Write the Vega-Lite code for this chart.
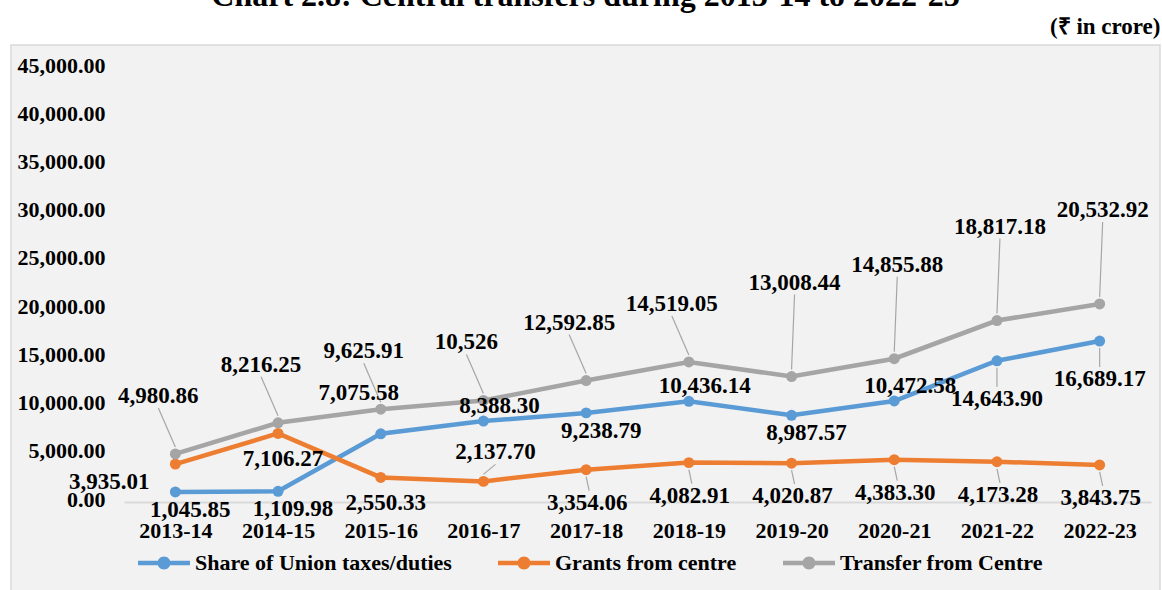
{
  "$schema": "https://vega.github.io/schema/vega-lite/v6.json",
  "width": 1149,
  "height": 546,
  "autosize": {"type": "none"},
  "padding": {"left": 11, "top": 45, "right": 2, "bottom": 0},
  "background": "white",
  "title": {
    "text": "Chart 2.8: Central transfers during 2013-14 to 2022-23",
    "font": "Liberation Serif",
    "fontSize": 32,
    "fontWeight": "bold",
    "color": "black",
    "anchor": "middle",
    "frame": "group",
    "baseline": "alphabetic",
    "offset": 6,
    "dy": 29
  },
  "config": {
    "view": {"fill": "#f2f2f2", "stroke": "#d9d9d9", "strokeWidth": 1.5},
    "font": "Liberation Serif"
  },
  "data": {
    "values": [
      {"year": "2013-14", "series": "Share of Union taxes/duties", "value": 1045.85},
      {"year": "2014-15", "series": "Share of Union taxes/duties", "value": 1109.98},
      {"year": "2015-16", "series": "Share of Union taxes/duties", "value": 7075.58},
      {"year": "2016-17", "series": "Share of Union taxes/duties", "value": 8388.30},
      {"year": "2017-18", "series": "Share of Union taxes/duties", "value": 9238.79},
      {"year": "2018-19", "series": "Share of Union taxes/duties", "value": 10436.14},
      {"year": "2019-20", "series": "Share of Union taxes/duties", "value": 8987.57},
      {"year": "2020-21", "series": "Share of Union taxes/duties", "value": 10472.58},
      {"year": "2021-22", "series": "Share of Union taxes/duties", "value": 14643.90},
      {"year": "2022-23", "series": "Share of Union taxes/duties", "value": 16689.17},
      {"year": "2013-14", "series": "Grants from centre", "value": 3935.01},
      {"year": "2014-15", "series": "Grants from centre", "value": 7106.27},
      {"year": "2015-16", "series": "Grants from centre", "value": 2550.33},
      {"year": "2016-17", "series": "Grants from centre", "value": 2137.70},
      {"year": "2017-18", "series": "Grants from centre", "value": 3354.06},
      {"year": "2018-19", "series": "Grants from centre", "value": 4082.91},
      {"year": "2019-20", "series": "Grants from centre", "value": 4020.87},
      {"year": "2020-21", "series": "Grants from centre", "value": 4383.30},
      {"year": "2021-22", "series": "Grants from centre", "value": 4173.28},
      {"year": "2022-23", "series": "Grants from centre", "value": 3843.75},
      {"year": "2013-14", "series": "Transfer from Centre", "value": 4980.86},
      {"year": "2014-15", "series": "Transfer from Centre", "value": 8216.25},
      {"year": "2015-16", "series": "Transfer from Centre", "value": 9625.91},
      {"year": "2016-17", "series": "Transfer from Centre", "value": 10526},
      {"year": "2017-18", "series": "Transfer from Centre", "value": 12592.85},
      {"year": "2018-19", "series": "Transfer from Centre", "value": 14519.05},
      {"year": "2019-20", "series": "Transfer from Centre", "value": 13008.44},
      {"year": "2020-21", "series": "Transfer from Centre", "value": 14855.88},
      {"year": "2021-22", "series": "Transfer from Centre", "value": 18817.18},
      {"year": "2022-23", "series": "Transfer from Centre", "value": 20532.92}
    ]
  },
  "transform": [
    {"calculate": "format(datum.value, datum.value == floor(datum.value) ? ',' : ',.2f')", "as": "label"}
  ],
  "encoding": {
    "x": {
      "field": "year",
      "type": "ordinal",
      "scale": {"type": "point", "range": [113, 1140], "padding": 0.5},
      "axis": {
        "title": null,
        "offset": -89,
        "domainColor": "#d9d9d9",
        "domainWidth": 2,
        "ticks": false,
        "tickSize": 0,
        "grid": false,
        "labelAngle": 0,
        "labelPadding": 18,
        "labelFont": "Liberation Serif",
        "labelFontSize": 22,
        "labelFontWeight": "bold",
        "labelColor": "black"
      }
    },
    "y": {
      "field": "value",
      "type": "quantitative",
      "scale": {"domain": [0, 45000], "range": [457, 23], "nice": false},
      "axis": {
        "values": [0, 5000, 10000, 15000, 20000, 25000, 30000, 35000, 40000, 45000],
        "format": ",.2f",
        "domain": false,
        "ticks": false,
        "tickSize": 0,
        "grid": false,
        "labelAlign": "right",
        "labelBaseline": "middle",
        "labelPadding": -94,
        "labelOffset": -3,
        "labelFont": "Liberation Serif",
        "labelFontSize": 22,
        "labelFontWeight": "bold",
        "labelColor": "black",
        "title": "(₹ in crore)",
        "titleX": 1149,
        "titleY": -12,
        "titleAngle": 0,
        "titleAlign": "right",
        "titleBaseline": "alphabetic",
        "titleFont": "Liberation Serif",
        "titleFontSize": 23,
        "titleFontWeight": "bold",
        "titleColor": "black"
      }
    }
  },
  "layer": [
    {
      "mark": {"type": "line", "strokeWidth": 4.5},
      "encoding": {
        "color": {
          "field": "series",
          "type": "nominal",
          "scale": {
            "domain": ["Share of Union taxes/duties", "Grants from centre", "Transfer from Centre"],
            "range": ["#5b9bd5", "#ed7d31", "#a5a5a5"]
          },
          "legend": {
            "orient": "none",
            "legendX": 127,
            "legendY": 492,
            "direction": "horizontal",
            "title": null,
            "padding": 0,
            "symbolType": "M-1,-0.09L1,-0.09L1,0.09L-1,0.09Z M0.25,0A0.25,0.25 0 1,1 -0.25,0A0.25,0.25 0 1,1 0.25,0Z",
            "symbolSize": 2704,
            "symbolStrokeWidth": 0,
            "labelFont": "Liberation Serif",
            "labelFontSize": 22,
            "labelFontWeight": "bold",
            "labelColor": "black",
            "labelLimit": 0,
            "labelOffset": 5,
            "columnPadding": 46,
            "encode": {
              "symbols": {
                "update": {
                  "fill": {"scale": "color", "field": "value"},
                  "stroke": {"value": "transparent"},
                  "opacity": {"value": 1}
                }
              }
            }
          }
        }
      }
    },
    {
      "mark": {"type": "circle", "size": 120, "opacity": 1},
      "encoding": {
        "color": {"field": "series", "type": "nominal"}
      }
    },
    {
      "transform": [{"filter": "datum.series == 'Transfer from Centre' && indexof(['2013-14','2014-15','2015-16','2016-17','2017-18','2018-19'], datum.year) >= 0"}],
      "mark": {"type": "rule", "color": "#a6a6a6", "strokeWidth": 1.2, "yOffset": -7, "x2Offset": -17, "y2Offset": -46},
      "encoding": {"x2": {"field": "year"}, "y2": {"field": "value"}}
    },
    {
      "transform": [{"filter": "datum.series == 'Transfer from Centre' && indexof(['2019-20','2020-21','2021-22','2022-23'], datum.year) >= 0"}],
      "mark": {"type": "rule", "color": "#a6a6a6", "strokeWidth": 1.2, "yOffset": -7, "x2Offset": 3, "y2Offset": -82},
      "encoding": {"x2": {"field": "year"}, "y2": {"field": "value"}}
    },
    {
      "transform": [{"filter": "datum.series == 'Share of Union taxes/duties' && indexof(['2021-22','2022-23'], datum.year) >= 0"}],
      "mark": {"type": "rule", "color": "#a6a6a6", "strokeWidth": 1.2, "yOffset": 7, "x2Offset": 0, "y2Offset": 26},
      "encoding": {"x2": {"field": "year"}, "y2": {"field": "value"}}
    },
    {
      "transform": [{"filter": "datum.series == 'Grants from centre' && datum.year == '2016-17'"}],
      "mark": {"type": "rule", "color": "#a6a6a6", "strokeWidth": 1.2, "yOffset": -7, "x2Offset": 12, "y2Offset": -17},
      "encoding": {"x2": {"field": "year"}, "y2": {"field": "value"}}
    },
    {
      "transform": [{"filter": "datum.series == 'Grants from centre' && indexof(['2017-18','2018-19','2019-20','2020-21','2021-22','2022-23'], datum.year) >= 0"}],
      "mark": {"type": "rule", "color": "#a6a6a6", "strokeWidth": 1.2, "yOffset": 7, "x2Offset": 3, "y2Offset": 21},
      "encoding": {"x2": {"field": "year"}, "y2": {"field": "value"}}
    },
    {
      "transform": [{"filter": "datum.series == 'Transfer from Centre' && indexof(['2013-14','2014-15','2015-16','2016-17','2017-18','2018-19'], datum.year) >= 0"}],
      "mark": {"type": "text", "dx": -17, "dy": -58, "font": "Liberation Serif", "fontSize": 23, "fontWeight": "bold", "color": "black"},
      "encoding": {"text": {"field": "label"}}
    },
    {
      "transform": [{"filter": "datum.series == 'Transfer from Centre' && indexof(['2019-20','2020-21','2021-22','2022-23'], datum.year) >= 0"}],
      "mark": {"type": "text", "dx": 3, "dy": -94, "font": "Liberation Serif", "fontSize": 23, "fontWeight": "bold", "color": "black"},
      "encoding": {"text": {"field": "label"}}
    },
    {
      "transform": [{"filter": "datum.series == 'Share of Union taxes/duties' && indexof(['2013-14','2014-15','2017-18','2019-20'], datum.year) >= 0"}],
      "mark": {"type": "text", "dx": 15, "dy": 18, "font": "Liberation Serif", "fontSize": 23, "fontWeight": "bold", "color": "black"},
      "encoding": {"text": {"field": "label"}}
    },
    {
      "transform": [{"filter": "datum.series == 'Share of Union taxes/duties' && indexof(['2021-22','2022-23'], datum.year) >= 0"}],
      "mark": {"type": "text", "dx": 0, "dy": 38, "font": "Liberation Serif", "fontSize": 23, "fontWeight": "bold", "color": "black"},
      "encoding": {"text": {"field": "label"}}
    },
    {
      "transform": [{"filter": "datum.series == 'Share of Union taxes/duties' && indexof(['2016-17','2018-19','2020-21'], datum.year) >= 0"}],
      "mark": {"type": "text", "dx": 16, "dy": -15, "font": "Liberation Serif", "fontSize": 23, "fontWeight": "bold", "color": "black"},
      "encoding": {"text": {"field": "label"}}
    },
    {
      "transform": [{"filter": "datum.series == 'Share of Union taxes/duties' && datum.year == '2015-16'"}],
      "mark": {"type": "text", "dx": -22, "dy": -41, "font": "Liberation Serif", "fontSize": 23, "fontWeight": "bold", "color": "black"},
      "encoding": {"text": {"field": "label"}}
    },
    {
      "transform": [{"filter": "datum.series == 'Grants from centre' && datum.year == '2013-14'"}],
      "mark": {"type": "text", "dx": -66, "dy": 18, "font": "Liberation Serif", "fontSize": 23, "fontWeight": "bold", "color": "black"},
      "encoding": {"text": {"field": "label"}}
    },
    {
      "transform": [{"filter": "datum.series == 'Grants from centre' && indexof(['2014-15','2015-16'], datum.year) >= 0"}],
      "mark": {"type": "text", "dx": 5, "dy": 26, "font": "Liberation Serif", "fontSize": 23, "fontWeight": "bold", "color": "black"},
      "encoding": {"text": {"field": "label"}}
    },
    {
      "transform": [{"filter": "datum.series == 'Grants from centre' && datum.year == '2016-17'"}],
      "mark": {"type": "text", "dx": 12, "dy": -29, "font": "Liberation Serif", "fontSize": 23, "fontWeight": "bold", "color": "black"},
      "encoding": {"text": {"field": "label"}}
    },
    {
      "transform": [{"filter": "datum.series == 'Grants from centre' && indexof(['2017-18','2018-19','2019-20','2020-21','2021-22','2022-23'], datum.year) >= 0"}],
      "mark": {"type": "text", "dx": 1, "dy": 33, "font": "Liberation Serif", "fontSize": 23, "fontWeight": "bold", "color": "black"},
      "encoding": {"text": {"field": "label"}}
    }
  ]
}
